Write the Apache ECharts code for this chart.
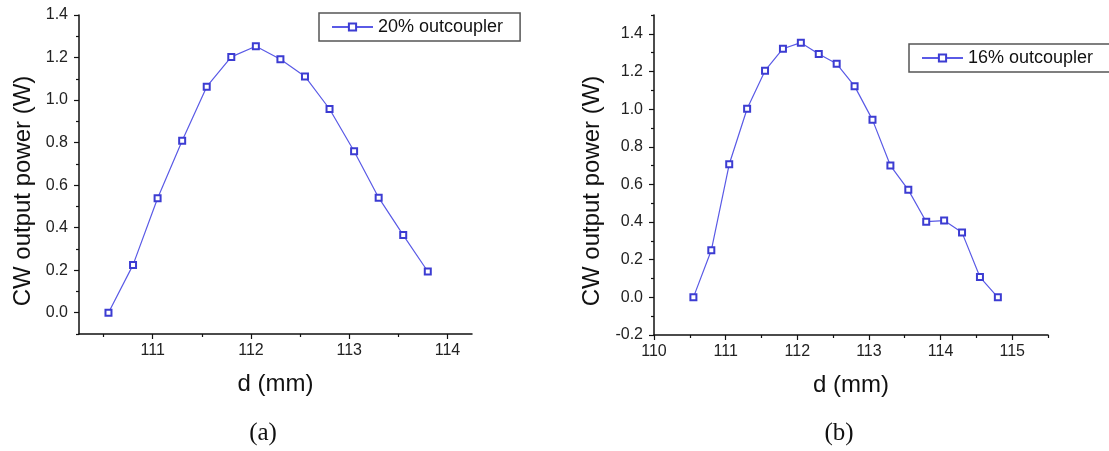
<!DOCTYPE html>
<html>
<head>
<meta charset="utf-8">
<script src="https://cdn.jsdelivr.net/npm/echarts@6/dist/echarts.min.js"></script>
<style>
html,body{margin:0;padding:0;background:#fff;}
#c{width:1109px;height:451px;}
</style>
</head>
<body>
<div id="c"></div>
<script>
// ---- data (a): 20% outcoupler ----
const xA = [110.55,110.80,111.05,111.30,111.55,111.80,112.05,112.30,112.55,112.80,113.05,113.30,113.55,113.80];
const yA = [0.00,0.225,0.538,0.809,1.063,1.203,1.253,1.192,1.111,0.958,0.759,0.541,0.365,0.194];
// ---- data (b): 16% outcoupler ----
const xB = [110.55,110.80,111.05,111.30,111.55,111.80,112.05,112.30,112.55,112.80,113.05,113.30,113.55,113.80,114.05,114.30,114.55,114.80];
const yB = [0.00,0.25,0.707,1.002,1.204,1.321,1.353,1.293,1.241,1.122,0.943,0.700,0.571,0.402,0.408,0.344,0.108,0.00];
// ---- names ----
const nameA = '20% outcoupler';
const nameB = '16% outcoupler';
const xTitle = 'd (mm)';
const yTitle = 'CW output power (W)';
const captions = ['(a)', '(b)'];
// ---- ticks ----
const xTicksA = [111,112,113,114];
const xMinorA = [110.5,111.5,112.5,113.5];
const yTicksA = [0.0,0.2,0.4,0.6,0.8,1.0,1.2,1.4];
const yMinorA = [-0.1,0.1,0.3,0.5,0.7,0.9,1.1,1.3];
const xTicksB = [110,111,112,113,114,115];
const xMinorB = [110.5,111.5,112.5,113.5,114.5,115.5];
const yTicksB = [-0.2,0.0,0.2,0.4,0.6,0.8,1.0,1.2,1.4];
const yMinorB = [-0.1,0.1,0.3,0.5,0.7,0.9,1.1,1.3,1.5];

const LINE = '#5a5ae6';
const MARK = '#3c3cd2';
const FONT = '"Liberation Sans", Arial, sans-serif';

function mainX(grid, min, max, ticks) {
  return {
    type: 'value', gridIndex: grid, min: min, max: max, position: 'bottom',
    name: xTitle, nameLocation: 'middle', nameGap: 38,
    nameTextStyle: {fontFamily: FONT, fontSize: 24, color: '#111'},
    axisLine: {show: true, onZero: false, lineStyle: {color: '#111', width: 1.5}},
    axisTick: {show: true, inside: false, length: 5, customValues: ticks, lineStyle: {color: '#111', width: 1.2}},
    axisLabel: {show: true, margin: 9, customValues: ticks, fontFamily: FONT, fontSize: 16, color: '#222',
      formatter: v => String(Math.round(v))},
    splitLine: {show: false}
  };
}
function minorX(grid, min, max, ticks) {
  return {
    type: 'value', gridIndex: grid, min: min, max: max, position: 'bottom', offset: 0,
    axisLine: {show: false, onZero: false},
    axisTick: {show: true, inside: false, length: 3, customValues: ticks, lineStyle: {color: '#111', width: 1.2}},
    axisLabel: {show: false},
    splitLine: {show: false}
  };
}
function mainY(grid, min, max, ticks) {
  return {
    type: 'value', gridIndex: grid, min: min, max: max, position: 'left',
    axisLine: {show: true, onZero: false, lineStyle: {color: '#111', width: 1.5}},
    axisTick: {show: true, inside: false, length: 5, customValues: ticks, lineStyle: {color: '#111', width: 1.2}},
    axisLabel: {show: true, margin: 11, customValues: ticks, fontFamily: FONT, fontSize: 16, color: '#222',
      formatter: v => (Math.round(v * 10) / 10).toFixed(1)},
    splitLine: {show: false}
  };
}
function minorY(grid, min, max, ticks) {
  return {
    type: 'value', gridIndex: grid, min: min, max: max, position: 'left', offset: 0,
    axisLine: {show: false, onZero: false},
    axisTick: {show: true, inside: false, length: 3, customValues: ticks, lineStyle: {color: '#111', width: 1.2}},
    axisLabel: {show: false},
    splitLine: {show: false}
  };
}
function legendAt(name, left, top) {
  return {
    data: [name], left: left, top: top, orient: 'horizontal',
    itemWidth: 41, itemHeight: 9, itemGap: 5,
    padding: [5, 17, 5, 12],
    borderColor: '#555', borderWidth: 1.5, backgroundColor: '#fff',
    textStyle: {fontFamily: FONT, fontSize: 18, color: '#111'},
    selectedMode: false
  };
}
function series(name, xs, ys, xi, yi) {
  return {
    name: name, type: 'line', xAxisIndex: xi, yAxisIndex: yi,
    data: xs.map((x, i) => [x, ys[i]]),
    symbol: 'emptyRect', symbolSize: 6,
    lineStyle: {color: LINE, width: 1.2},
    itemStyle: {color: MARK, borderColor: MARK, borderWidth: 1.2},
    animation: false
  };
}

const chart = echarts.init(document.getElementById('c'), null, {renderer: 'canvas'});
chart.setOption({
  backgroundColor: '#fff',
  animation: false,
  grid: [
    {left: 79, top: 15, width: 393, height: 319},
    {left: 654, top: 15, width: 394, height: 320}
  ],
  xAxis: [
    mainX(0, 110.25, 114.25, xTicksA),
    minorX(0, 110.25, 114.25, xMinorA),
    mainX(1, 110, 115.5, xTicksB),
    minorX(1, 110, 115.5, xMinorB)
  ],
  yAxis: [
    mainY(0, -0.1, 1.4, yTicksA),
    minorY(0, -0.1, 1.4, yMinorA),
    mainY(1, -0.2, 1.5, yTicksB),
    minorY(1, -0.2, 1.5, yMinorB)
  ],
  legend: [
    legendAt(nameA, 319, 13),
    legendAt(nameB, 909, 44)
  ],
  series: [
    series(nameA, xA, yA, 0, 0),
    series(nameB, xB, yB, 2, 2)
  ],
  graphic: [
    {type: 'text', x: 23, y: 191, rotation: Math.PI / 2,
      style: {text: yTitle, fontFamily: FONT, fontSize: 24, fill: '#111', align: 'center', verticalAlign: 'middle'}},
    {type: 'text', x: 592, y: 191, rotation: Math.PI / 2,
      style: {text: yTitle, fontFamily: FONT, fontSize: 24, fill: '#111', align: 'center', verticalAlign: 'middle'}},
    {type: 'text', x: 263, y: 433,
      style: {text: captions[0], fontFamily: '"Liberation Serif", "DejaVu Serif", serif', fontSize: 25, fill: '#111', align: 'center', verticalAlign: 'middle'}},
    {type: 'text', x: 839, y: 433,
      style: {text: captions[1], fontFamily: '"Liberation Serif", "DejaVu Serif", serif', fontSize: 25, fill: '#111', align: 'center', verticalAlign: 'middle'}}
  ]
});
</script>
</body>
</html>
